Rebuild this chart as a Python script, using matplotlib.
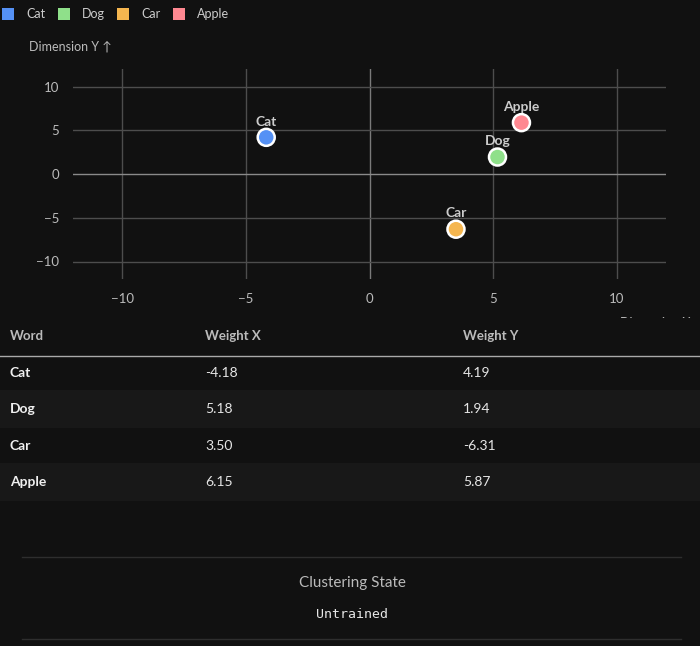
import matplotlib
matplotlib.use("Agg")
import matplotlib.pyplot as plt
from matplotlib.patches import Rectangle
from matplotlib.lines import Line2D

words = ["Cat", "Dog", "Car", "Apple"]
weight_x = [-4.18, 5.18, 3.50, 6.15]
weight_y = [4.19, 1.94, -6.31, 5.87]
colors = ["#5591f5", "#8fe08a", "#f5b64f", "#ff8891"]
xticks = [-10, -5, 0, 5, 10]
yticks = [-10, -5, 0, 5, 10]
table_headers = ["Word", "Weight X", "Weight Y"]
state_title = "Clustering State"
state_value = "Untrained"

BG = "#111111"
W, H = 700, 646
plt.rcParams['font.family'] = ['Lato', 'DejaVu Sans']

fig = plt.figure(figsize=(W / 100, H / 100), dpi=100, facecolor=BG)

def fx(x):
    return x / W

def fy(y):
    return 1 - y / H

# scatter axes
ax = fig.add_axes([fx(73), fy(279), fx(666) - fx(73), fy(69) - fy(279)])
ax.set_facecolor(BG)
ax.set_xlim(-12, 12)
ax.set_ylim(-12, 12)
for s in ax.spines.values():
    s.set_visible(False)
ax.set_xticks(xticks)
ax.set_yticks(yticks)
ax.set_xticklabels([str(t).replace("-", "\u2212") for t in xticks])
ax.set_yticklabels([str(t).replace("-", "\u2212") for t in yticks])
ax.tick_params(length=0, colors="#bbbbbb", labelsize=9.5, pad=10)
for t in xticks:
    ax.axvline(t, color="#7a7a7a" if t == 0 else "#4d4d4d", lw=1, zorder=1)
for t in yticks:
    ax.axhline(t, color="#8a8a8a" if t == 0 else "#4d4d4d", lw=1, zorder=1)
ax.scatter(weight_x, weight_y, s=150, c=colors, edgecolors="white", linewidths=1.8, zorder=3)
for w, x, y in zip(words, weight_x, weight_y):
    ax.annotate(w, (x, y), xytext=(0, 7), textcoords="offset points", ha="center",
                va="bottom", color="#cccccc", fontsize=10, fontweight="bold", zorder=4)

# Dimension X label (clipped by table area, as in the reference)
fig.text(fx(620), fy(323), "Dimension X \u2192", color="#bbbbbb", fontsize=9, va="center", ha="left")
fig.patches.append(Rectangle((0, 0), 1, fy(318.5), transform=fig.transFigure, facecolor=BG,
                             edgecolor="none", zorder=5))

# Legend
leg_x = [2, 58, 117, 173]
for w, c, lx in zip(words, colors, leg_x):
    fig.patches.append(Rectangle((fx(lx), fy(20)), fx(12), 12 / H, transform=fig.transFigure,
                                 facecolor=c, edgecolor="none", zorder=6))
    fig.text(fx(lx + 24), fy(14), w, color="#cccccc", fontsize=9, va="center", ha="left", zorder=6)

fig.text(fx(29), fy(47), "Dimension Y \u2191", color="#bbbbbb", fontsize=9, va="center", ha="left")

# Table
col_x = [10, 205, 463]
for hx, h in zip(col_x, table_headers):
    fig.text(fx(hx), fy(336), h, color="#bbbbbb", fontsize=9.5, fontweight="bold", va="center", ha="left", zorder=7)
fig.add_artist(Line2D([0, 1], [fy(355.5), fy(355.5)], color="#aaaaaa", lw=1, transform=fig.transFigure, zorder=7))
row_top = [356, 390, 428, 463]
row_bot = [390, 428, 463, 501]
for i, (w, x, y) in enumerate(zip(words, weight_x, weight_y)):
    if i % 2 == 1:
        fig.patches.append(Rectangle((0, fy(row_bot[i])), 1, (row_bot[i] - row_top[i]) / H,
                                     transform=fig.transFigure, facecolor="#181818", edgecolor="none", zorder=6))
    cy = (row_top[i] + row_bot[i]) / 2
    fig.text(fx(col_x[0]), fy(cy), w, color="#f0f0f0", fontsize=10, fontweight="bold", va="center", ha="left", zorder=7)
    fig.text(fx(col_x[1]), fy(cy), f"{x:.2f}", color="#e6e6e6", fontsize=10, va="center", ha="left", zorder=7)
    fig.text(fx(col_x[2]), fy(cy), f"{y:.2f}", color="#e6e6e6", fontsize=10, va="center", ha="left", zorder=7)

# Bottom state panel
for ly in [557, 639]:
    fig.add_artist(Line2D([fx(22), fx(681)], [fy(ly), fy(ly)], color="#2e2e2e", lw=1,
                          transform=fig.transFigure, zorder=7))
fig.text(fx(352), fy(583), state_title, color="#bbbbbb", fontsize=11, va="center", ha="center", zorder=7)
fig.text(fx(352), fy(614), state_value, color="#e6e6e6", fontsize=9.5, va="center", ha="center",
         family="DejaVu Sans Mono", zorder=7)

fig.savefig("out.png", dpi=100, facecolor=BG)
